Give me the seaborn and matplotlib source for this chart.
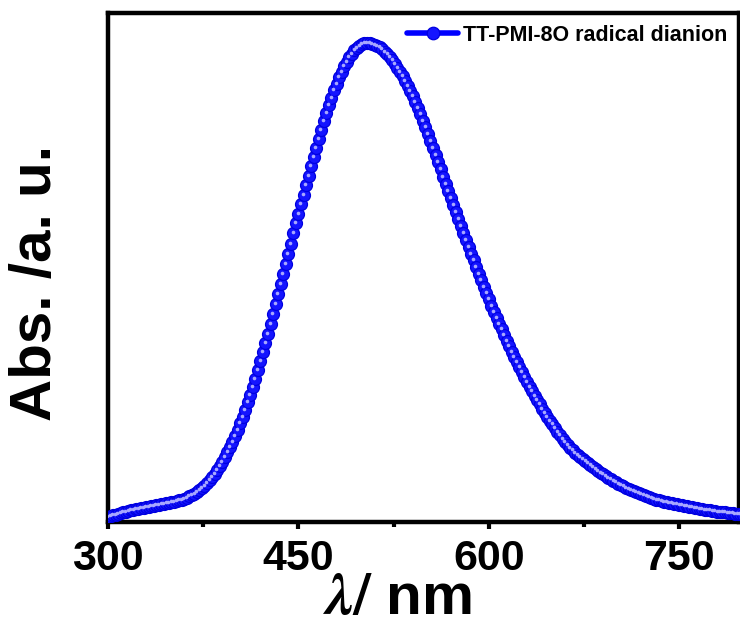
import numpy as np
import pandas as pd
import matplotlib
matplotlib.use("Agg")
import matplotlib.pyplot as plt
import matplotlib.transforms as mtransforms
import seaborn as sns

# ---------------- data ----------------
wavelength = np.arange(300, 802, 2)  # nm, 2 nm sampling
absorbance = [
    # 300-350
    5.0, 5.8, 6.6, 7.4, 8.2, 8.9, 9.6, 10.3, 11.0, 11.6, 12.2, 12.8, 13.4,
    13.9, 14.4, 14.9, 15.4, 15.8, 16.3, 16.7, 17.2, 17.6, 18.1, 18.6, 19.1, 19.7,
    # 352-450
    20.3, 21.0, 21.7, 22.5, 23.4, 24.4, 25.6, 26.9, 28.4, 30.1,
    32.0, 34.1, 36.4, 39.0, 41.8, 44.9, 48.3, 52.0, 56.0, 60.3,
    64.9, 69.8, 75.0, 80.5, 86.3, 92.4, 98.8, 105.5, 112.5, 119.8,
    127.4, 135.3, 143.5, 152.0, 160.8, 169.8, 179.0, 188.4, 198.0, 207.8,
    217.7, 227.7, 237.8, 248.0, 258.2, 268.4, 278.5, 288.6, 298.6, 308.5,
    # 452-504
    318.0, 327.5, 337.0, 346.5, 356.0, 365.0, 374.5, 383.5, 392.4, 401.0,
    409.2, 417.1, 424.5, 431.7, 438.4, 444.6, 450.4, 455.7, 460.5, 464.8,
    468.5, 471.7, 474.3, 476.4, 477.8, 478.7, 479.0,
    # 506-580
    478.8, 478.3, 477.4, 476.2, 474.6, 472.7, 470.5, 467.9, 465.0, 461.8,
    458.3, 454.5, 450.3, 445.9, 441.2, 436.3, 431.0, 425.6, 419.9, 414.0,
    407.8, 401.4, 394.8, 388.0, 381.1, 374.1, 367.0, 359.9, 352.7, 345.5,
    338.3, 331.1, 323.9, 316.8, 309.7, 302.7, 295.7, 288.8,
    # 582-660
    281.9, 275.1, 268.3, 261.6, 254.9, 248.3, 241.8, 235.3, 228.9, 222.6,
    216.4, 210.3, 204.3, 198.4, 192.6, 186.9, 181.3, 175.8, 170.4, 165.1,
    159.9, 154.8, 149.8, 144.9, 140.1, 135.4, 130.8, 126.3, 121.9, 117.6,
    113.4, 109.3, 105.3, 101.4, 97.6, 93.9, 90.3, 86.8, 83.4, 80.1,
    # 662-700
    77.1, 74.3, 71.7, 69.3, 67.0, 64.8, 62.7, 60.7, 58.8, 57.0,
    55.1, 53.2, 51.3, 49.5, 47.8, 46.1, 44.4, 42.8, 41.3, 39.8,
    # 702-750
    38.4, 36.9, 35.6, 34.3, 33.1, 31.9, 30.7, 29.6, 28.6, 27.6,
    26.6, 25.7, 24.9, 24.0, 23.3, 22.5, 21.8, 21.1, 20.4, 19.8,
    19.2, 18.6, 18.1, 17.6, 17.1,
    # 752-800
    16.6, 16.1, 15.6, 15.1, 14.6, 14.1, 13.7, 13.3, 12.9, 12.5,
    12.1, 11.7, 11.3, 10.9, 10.5, 10.2, 9.9, 9.6, 9.3, 9.0,
    8.7, 8.4, 8.1, 7.8, 7.5,
]
series_label = "TT-PMI-8O radical dianion"
x_major_ticks = [300, 450, 600, 750]
x_minor_ticks = [375, 525, 675]

assert len(wavelength) == len(absorbance)
df = pd.DataFrame({"wavelength": wavelength, "absorbance": absorbance})

# ---------------- style ----------------
sns.set_style("ticks")
plt.rcParams["font.family"] = ["Liberation Sans", "DejaVu Sans"]
plt.rcParams["font.weight"] = "bold"
plt.rcParams["mathtext.fontset"] = "stix"
plt.rcParams["text.color"] = "black"
plt.rcParams["xtick.color"] = "black"
plt.rcParams["xtick.labelcolor"] = "black"
plt.rcParams["axes.labelcolor"] = "black"

fig = plt.figure(figsize=(7.4, 6.26), dpi=100)
ax = fig.add_axes([108 / 740, 1 - 522 / 626, (739 - 108) / 740, (522 - 13) / 626])

blue = "#0000ff"
sns.lineplot(data=df, x="wavelength", y="absorbance", ax=ax, color=blue,
             linewidth=3, marker="o", markersize=8.6,
             markerfacecolor="#1414ff", markeredgecolor="#0000e0",
             markeredgewidth=0.9, sort=False, errorbar=None,
             label=series_label, zorder=3)
main_line = ax.get_lines()[-1]

# sphere highlight on each marker
offset = mtransforms.ScaledTranslation(-0.8 / 100, 1.0 / 100, fig.dpi_scale_trans)
sns.lineplot(data=df, x="wavelength", y="absorbance", ax=ax,
             linestyle="none", marker="o", markersize=2.6,
             markerfacecolor="#a8a8ff", markeredgewidth=0, color="#a8a8ff",
             sort=False, errorbar=None, legend=False, zorder=4,
             transform=ax.transData + offset)
hl_line = ax.get_lines()[-1]
hl_line.set_label("_nolegend_")

ax.set_xlim(300, 797)
ax.set_ylim(0, 509)

ax.set_xticks(x_major_ticks)
ax.set_xticks(x_minor_ticks, minor=True)
ax.set_xticklabels([str(t) for t in x_major_ticks])
ax.set_yticks([])
ax.tick_params(axis="x", which="major", direction="out", length=5, width=3,
               pad=7, labelsize=31, color="black", labelcolor="black")
ax.tick_params(axis="x", which="minor", direction="out", length=3.5, width=3,
               color="black")
for lab in ax.get_xticklabels():
    lab.set_fontweight("bold")

for side in ["left", "right", "top", "bottom"]:
    ax.spines[side].set_visible(True)
    ax.spines[side].set_linewidth(3.2)
    ax.spines[side].set_color("black")

ax.set_xlabel("")
ax.set_ylabel("")

fig.text(36 / 740, 1 - 283 / 626, "Abs. /a. u.", rotation=90,
         ha="center", va="center", fontsize=42, fontweight="bold",
         color="black")
fig.text(397 / 740, 1 - 614 / 626, r"$\lambda/$ nm", ha="center",
         va="baseline", fontsize=42, fontweight="bold", color="black")

leg = ax.legend(handles=[main_line], labels=[series_label],
                loc="upper right", frameon=False,
                handlelength=2.4, handletextpad=0.2, numpoints=1,
                borderaxespad=0.15, prop={"weight": "bold", "size": 15.5})
for t in leg.get_texts():
    t.set_color("black")
for h in leg.legend_handles:
    h.set_linewidth(4)
    h.set_markersize(9)

fig.savefig("out.png", dpi=100)
